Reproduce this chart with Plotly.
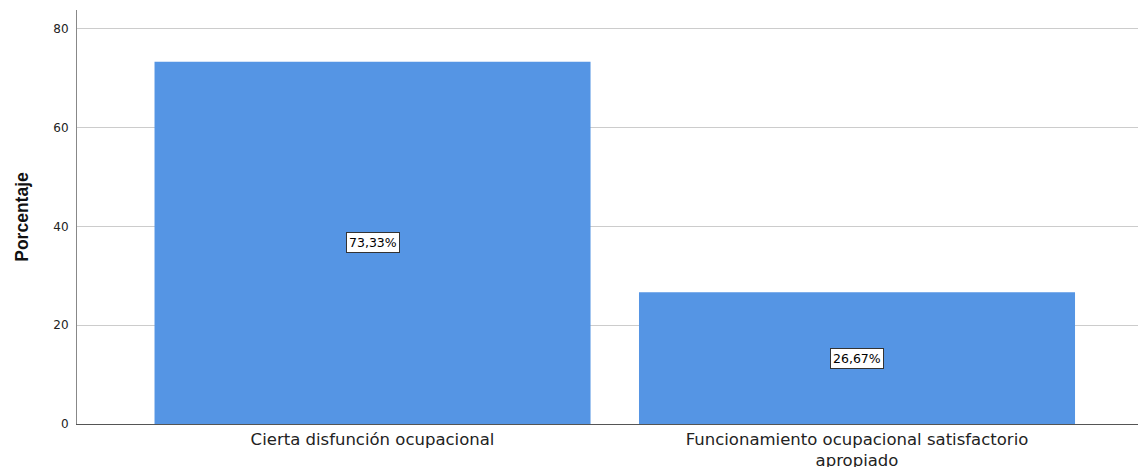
import plotly.graph_objects as go

categories = ["Cierta disfunción ocupacional", "Funcionamiento ocupacional satisfactorio<br>apropiado"]
values = [73.33, 26.67]
labels = ["73,33%", "26,67%"]
y_ticks = [0, 20, 40, 60, 80]

fig = go.Figure()
fig.add_trace(go.Bar(
    x=categories, y=values,
    marker=dict(color="#5595E4", line=dict(width=0)),
    width=0.9,
    hoverinfo="skip",
))

for c, v, t in zip(categories, values, labels):
    fig.add_annotation(
        x=c, y=v / 2, text=t, showarrow=False,
        font=dict(family="DejaVu Sans", size=12.5, color="#000000"),
        bgcolor="#ffffff", bordercolor="#333333", borderwidth=1, borderpad=2,
    )

fig.update_layout(
    width=1138, height=467,
    margin=dict(l=77, r=0, t=10, b=43, autoexpand=False),
    paper_bgcolor="#ffffff", plot_bgcolor="#ffffff",
    showlegend=False,
    font=dict(family="DejaVu Sans", color="#222222"),
)
fig.update_xaxes(
    range=[-0.61, 1.58], automargin=False,
    showline=True, linecolor="#555555", linewidth=1,
    ticks="", tickfont=dict(family="DejaVu Sans", size=16.5, color="#222222"),
    showgrid=False,
)
fig.update_yaxes(
    range=[0, 83.8], tickvals=y_ticks, automargin=False,
    showgrid=True, gridcolor="#cccccc", gridwidth=1,
    showline=True, linecolor="#888888", linewidth=1,
    ticks="", ticklabelstandoff=5,
    tickfont=dict(family="DejaVu Sans", size=12, color="#222222"),
    title=dict(text="<b>Porcentaje</b>", font=dict(family="Liberation Sans", size=17.5, color="#111111"), standoff=20),
    zeroline=False,
)

fig.write_html(
    "out.html",
    config={"displayModeBar": False},
    post_script="document.body.style.margin='0';document.body.style.overflow='hidden';",
)
